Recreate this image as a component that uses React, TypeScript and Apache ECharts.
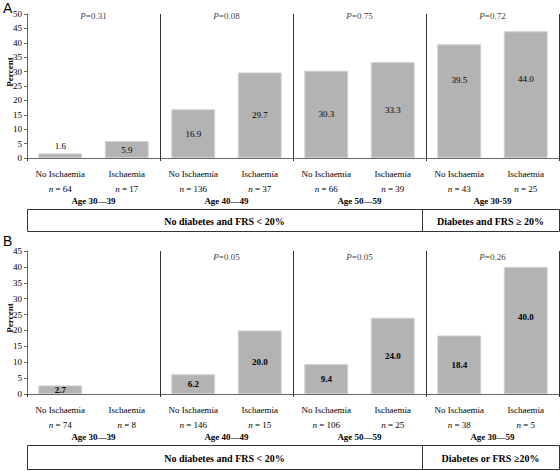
import React, { useEffect, useRef } from 'react';
import * as echarts from 'echarts';

const categories = ['No Ischaemia', 'Ischaemia', 'No Ischaemia', 'Ischaemia', 'No Ischaemia', 'Ischaemia', 'No Ischaemia', 'Ischaemia'];
const groupsA = ['Age 30—39', 'Age 40—49', 'Age 50—59', 'Age 30-59'];
const groupsB = ['Age 30—39', 'Age 40—49', 'Age 50—59', 'Age 30—59'];
const valuesA = [1.6, 5.9, 16.9, 29.7, 30.3, 33.3, 39.5, 44.0];
const valuesB = [2.7, 0, 6.2, 20.0, 9.4, 24.0, 18.4, 40.0];
const nA = [64, 17, 136, 37, 66, 39, 43, 25];
const nB = [74, 8, 146, 15, 106, 25, 38, 5];
const pA: (string | null)[] = ['0.31', '0.08', '0.75', '0.72'];
const pB: (string | null)[] = [null, '0.05', '0.05', '0.26'];
const yMaxA = 50;
const yMaxB = 45;
const yInterval = 5;
const boxTextsA = ['No diabetes and FRS < 20%', 'Diabetes and FRS ≥ 20%'];
const boxTextsB = ['No diabetes and FRS < 20%', 'Diabetes or FRS ≥20%'];

const SERIF = "'Liberation Serif', 'Times New Roman', serif";
const SANS = "'Liberation Sans', Arial, sans-serif";
const AXIS = '#666';
const DARK = '#333';
const TEXT = '#000';

const labelOverridesA: Record<number, any> = {
  0: { position: 'top', distance: 3 },
  6: { position: ['50%', 36], align: 'center', verticalAlign: 'middle' },
  7: { position: ['50%', 48], align: 'center', verticalAlign: 'middle' },
};
const labelOverridesB: Record<number, any> = {
  7: { position: ['50%', 50], align: 'center', verticalAlign: 'middle' },
};

const LEFT = 27;
const RIGHT_EDGE = 559;

function panel(
  gi: number,
  top: number,
  height: number,
  yMax: number,
  values: number[],
  ns: number[],
  groups: string[],
  ps: (string | null)[],
  overrides: Record<number, any>,
  bold: boolean,
  pOffset: number
) {
  const grid = { left: LEFT, right: 560 - RIGHT_EDGE, top, height, containLabel: false };
  const xCat = {
    type: 'category',
    gridIndex: gi,
    position: 'bottom',
    offset: 0,
    data: categories,
    axisLine: { show: true, lineStyle: { color: AXIS, width: 1 } },
    axisTick: { show: false },
    axisLabel: {
      interval: 0,
      margin: 8,
      formatter: (v: string, i: number) => `{c|${v}}\n{n|n}{m| = ${ns[i]}}`,
      rich: {
        c: { fontFamily: SERIF, fontSize: 9, color: TEXT, lineHeight: 15 },
        n: { fontFamily: SERIF, fontSize: 9, color: TEXT, fontStyle: 'italic', lineHeight: 15 },
        m: { fontFamily: SERIF, fontSize: 9, color: TEXT, lineHeight: 15 },
      },
    },
    splitLine: { show: false },
  };
  const xGroup = {
    type: 'category',
    gridIndex: gi,
    position: 'bottom',
    offset: 0,
    data: groups,
    axisLine: { show: false },
    axisTick: { show: true, length: 3, lineStyle: { color: DARK } },
    axisLabel: {
      interval: 0,
      margin: 37,
      fontFamily: SERIF,
      fontSize: 9,
      fontWeight: 'bold',
      color: TEXT,
      lineHeight: 12,
    },
    splitLine: { show: true, lineStyle: { color: DARK, width: 1 } },
  };
  const y = {
    type: 'value',
    gridIndex: gi,
    min: 0,
    max: yMax,
    interval: yInterval,
    axisLine: { show: true, lineStyle: { color: AXIS } },
    axisTick: { show: true, length: 3, lineStyle: { color: AXIS } },
    axisLabel: { fontFamily: SERIF, fontSize: 9, color: TEXT, margin: 5 },
    splitLine: { show: false },
  };
  const bar = {
    type: 'bar',
    xAxisIndex: gi * 2,
    yAxisIndex: gi,
    barWidth: '66%',
    itemStyle: { color: '#b3b3b3', borderColor: '#d0d0d0', borderWidth: 1 },
    label: {
      show: true,
      position: 'inside',
      fontFamily: SERIF,
      fontSize: 9,
      fontWeight: bold ? 'bold' : 'normal',
      color: TEXT,
      formatter: (p: any) => Number(p.value).toFixed(1),
    },
    data: values.map((v, i) => {
      if (v === 0) return { value: v, label: { show: false }, itemStyle: { borderWidth: 0 } };
      return overrides[i] ? { value: v, label: overrides[i] } : v;
    }),
  };
  const pSeries = {
    type: 'scatter',
    xAxisIndex: gi * 2 + 1,
    yAxisIndex: gi,
    symbolSize: 1,
    silent: true,
    itemStyle: { color: 'rgba(0,0,0,0)' },
    label: {
      show: true,
      position: 'inside',
      offset: [0, pOffset],
      formatter: (p: any) => `{i|P}{r|=${p.data.p}}`,
      rich: {
        i: { fontFamily: SERIF, fontSize: 9, fontStyle: 'italic', color: TEXT },
        r: { fontFamily: SERIF, fontSize: 9, color: TEXT },
      },
    },
    data: ps
      .map((p, i) => (p ? { value: [i, yMax], p } : null))
      .filter((d) => d !== null),
  };
  return { grid, xAxes: [xCat, xGroup], y, series: [bar, pSeries] };
}

function boxGraphics(top: number, bottom: number, divX: number, texts: string[]) {
  const h = bottom - top;
  const mid = top + h / 2;
  return [
    {
      type: 'rect',
      shape: { x: LEFT + 0.5, y: top + 0.5, width: RIGHT_EDGE - LEFT, height: h },
      style: { fill: 'none', stroke: DARK, lineWidth: 1 },
    },
    {
      type: 'line',
      shape: { x1: divX + 0.5, y1: top, x2: divX + 0.5, y2: bottom + 1 },
      style: { stroke: DARK, lineWidth: 1 },
    },
    {
      type: 'text',
      x: (LEFT + divX) / 2,
      y: mid + 1,
      style: { text: texts[0], fontFamily: SERIF, fontSize: 10, fontWeight: 'bold', fill: TEXT, align: 'center', verticalAlign: 'middle' },
    },
    {
      type: 'text',
      x: (divX + RIGHT_EDGE) / 2,
      y: mid + 1,
      style: { text: texts[1], fontFamily: SERIF, fontSize: 10, fontWeight: 'bold', fill: TEXT, align: 'center', verticalAlign: 'middle' },
    },
  ];
}

export default function App() {
  const ref = useRef<HTMLDivElement>(null);
  useEffect(() => {
    if (!ref.current) return;
    const chart = echarts.init(ref.current, undefined, { renderer: 'svg' });
    const a = panel(0, 14, 144, yMaxA, valuesA, nA, groupsA, pA, labelOverridesA, false, 2);
    const b = panel(1, 251, 143, yMaxB, valuesB, nB, groupsB, pB, labelOverridesB, true, 6);
    chart.setOption({
      animation: false,
      backgroundColor: '#fff',
      grid: [a.grid, b.grid],
      xAxis: [...a.xAxes, ...b.xAxes],
      yAxis: [a.y, b.y],
      series: [...a.series, ...b.series],
      graphic: [
        { type: 'text', x: 3, y: 1, style: { text: 'A', fontFamily: SANS, fontSize: 14, fill: TEXT } },
        { type: 'text', x: 3, y: 234, style: { text: 'B', fontFamily: SANS, fontSize: 14, fill: TEXT } },
        {
          type: 'text', x: 10, y: 72, rotation: Math.PI / 2,
          style: { text: 'Percent', fontFamily: SERIF, fontSize: 9, fontWeight: 'bold', fill: TEXT, align: 'center', verticalAlign: 'middle' },
        },
        {
          type: 'text', x: 10, y: 318, rotation: Math.PI / 2,
          style: { text: 'Percent', fontFamily: SERIF, fontSize: 9, fontWeight: 'bold', fill: TEXT, align: 'center', verticalAlign: 'middle' },
        },
        ...boxGraphics(209, 231, 422, boxTextsA),
        ...boxGraphics(445, 469, 422, boxTextsB),
      ],
    });
    return () => chart.dispose();
  }, []);
  return <div ref={ref} style={{ position: 'absolute', left: 0, top: 0, width: 560, height: 471 }} />;
}
